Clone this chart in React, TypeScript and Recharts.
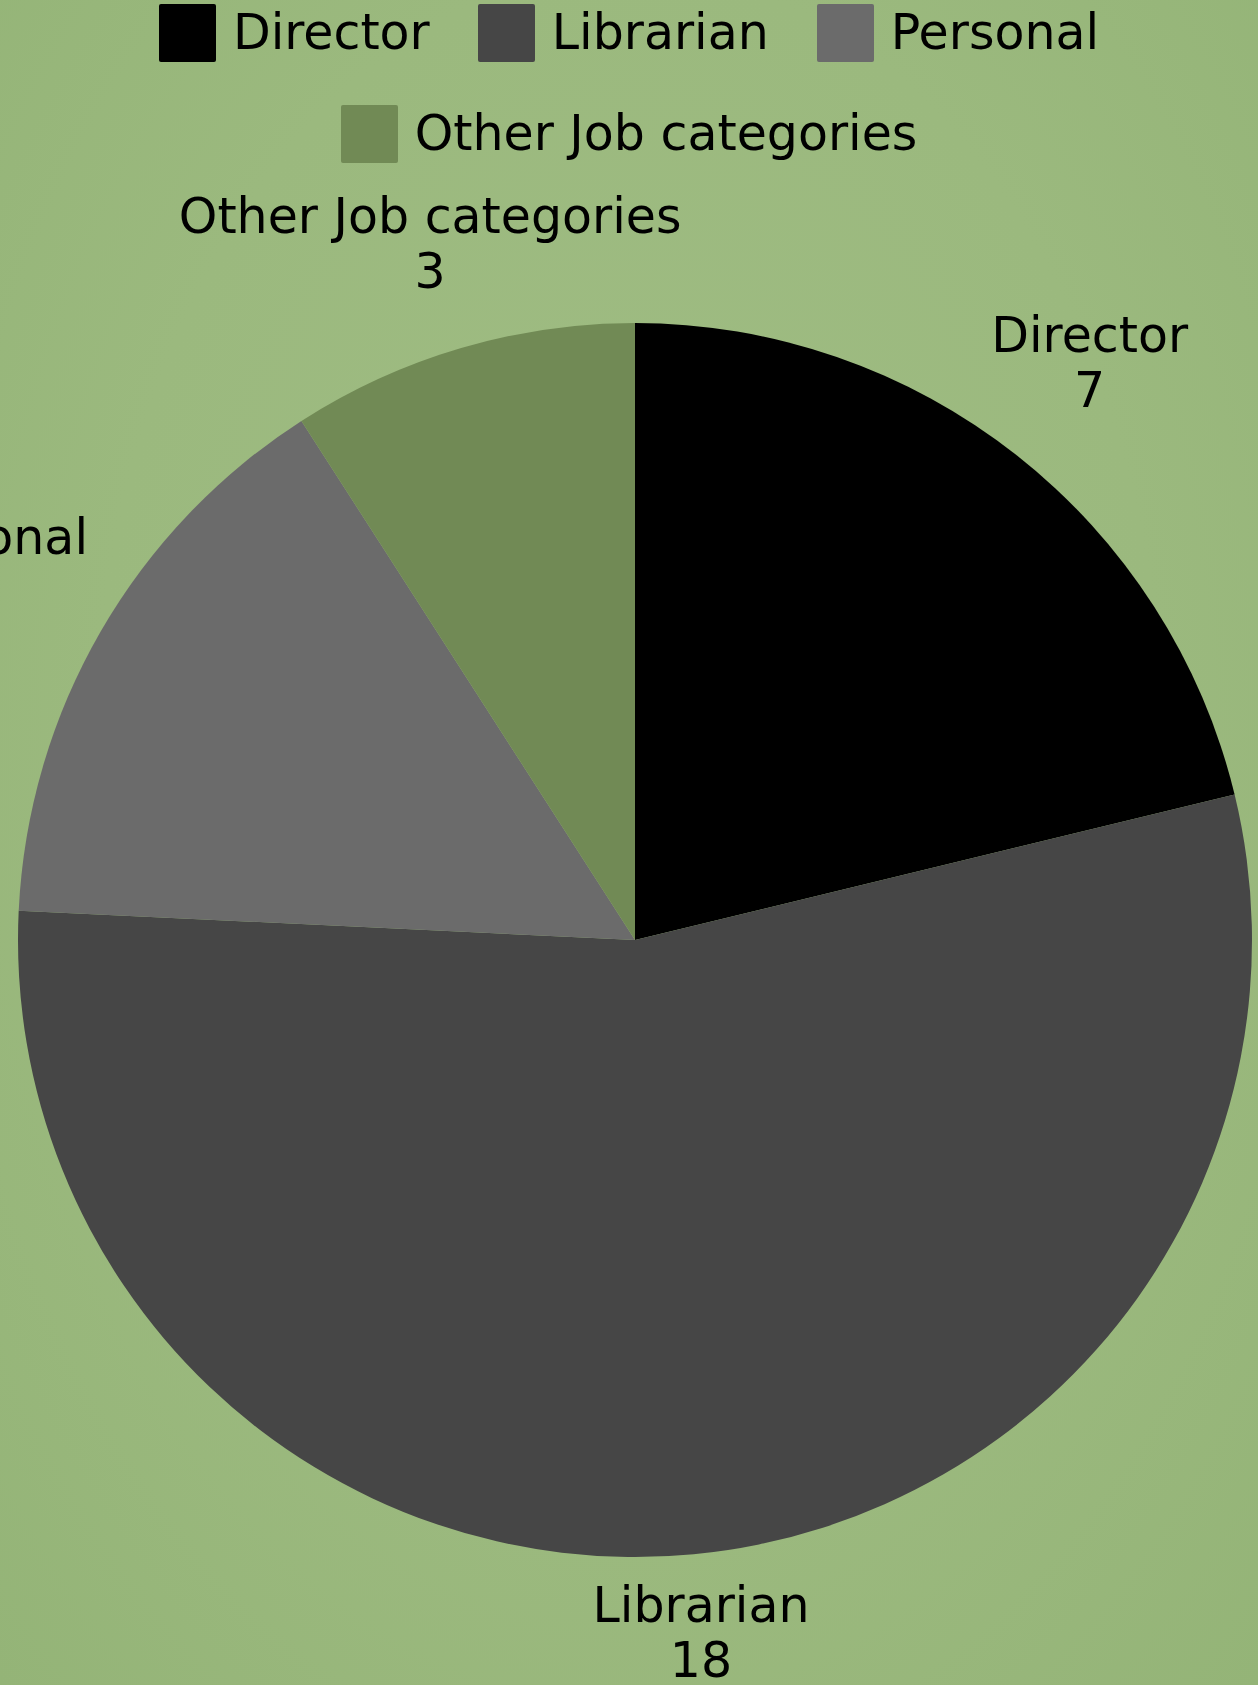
import React from 'react';
import { PieChart, Pie, Cell } from 'recharts';

const categories = ['Director', 'Librarian', 'Personal', 'Other Job categories'];
const counts = [7, 18, 5, 3];
const sliceColors = ['#000000', '#464646', '#6b6b6b', '#718a55'];

const data = categories.map((name, i) => ({ name, value: counts[i] }));

const FONT = '"DejaVu Sans", sans-serif';
const LABEL_SIZE = 49;
const LINE_GAP = 55;
const CAP = LABEL_SIZE * 0.729;
const HALF_H = (CAP + LINE_GAP) / 2;
const LEGEND_BOTTOM = 163;
const RADIAN = Math.PI / 180;

let ctx: CanvasRenderingContext2D | null = null;
const textWidth = (s: string) => {
  if (!ctx) ctx = document.createElement('canvas').getContext('2d');
  if (!ctx) return s.length * LABEL_SIZE * 0.55;
  ctx.font = `${LABEL_SIZE}px ${FONT}`;
  return ctx.measureText(s).width;
};

// label block is pushed out so its box clears the pie edge, but kept below the legend
const renderLabel = (props: any) => {
  const { cx, cy, midAngle, outerRadius, name, value } = props;
  const dx = Math.cos(-midAngle * RADIAN);
  const dy = Math.sin(-midAngle * RADIAN);
  const halfW = Math.max(textWidth(name), textWidth(String(value))) / 2;
  let r = outerRadius + 22 + halfW * Math.abs(dx) + HALF_H * Math.abs(dy);
  const minY = LEGEND_BOTTOM + 34 + HALF_H;
  if (dy < 0 && cy + r * dy < minY) r = (cy - minY) / -dy;
  const x = cx + r * dx;
  const y = cy + r * dy;
  const base = y - HALF_H + CAP;
  return (
    <text
      x={x}
      y={base}
      textAnchor="middle"
      fill="#000"
      fontFamily={FONT}
      fontSize={LABEL_SIZE}
    >
      <tspan x={x} y={base}>{name}</tspan>
      <tspan x={x} y={base + LINE_GAP}>{value}</tspan>
    </text>
  );
};

const LegendBox: React.FC = () => (
  <div
    style={{
      position: 'absolute',
      top: 4,
      left: 0,
      width: 1258,
      display: 'flex',
      flexWrap: 'wrap',
      justifyContent: 'center',
      columnGap: 48,
      rowGap: 43,
      fontFamily: FONT,
      fontSize: 49,
      color: '#000',
    }}
  >
    {categories.map((c, i) => (
      <div key={c} style={{ display: 'flex', alignItems: 'center', height: 58 }}>
        <span
          style={{
            display: 'inline-block',
            width: 57,
            height: 58,
            borderRadius: 2,
            background: sliceColors[i],
            marginRight: 17,
          }}
        />
        <span style={{ lineHeight: '58px' }}>{c}</span>
      </div>
    ))}
  </div>
);

export default function App() {
  return (
    <div
      style={{
        position: 'absolute',
        top: 0,
        left: 0,
        width: 1258,
        height: 1685,
        overflow: 'hidden',
        background: 'radial-gradient(ellipse at 50% 45%, #a0bd84 0%, #9bb97e 60%, #94b477 100%)',
      }}
    >
      <LegendBox />
      <PieChart
        width={1258}
        height={1685}
        margin={{ top: 0, right: 0, bottom: 0, left: 0 }}
        style={{ position: 'absolute', top: 0, left: 0 }}
      >
        <Pie
          data={data}
          dataKey="value"
          nameKey="name"
          cx={635}
          cy={940}
          outerRadius={617}
          startAngle={90}
          endAngle={-270}
          stroke="none"
          label={renderLabel}
          labelLine={false}
          isAnimationActive={false}
        >
          {data.map((d, i) => (
            <Cell key={d.name} fill={sliceColors[i]} />
          ))}
        </Pie>
      </PieChart>
    </div>
  );
}
